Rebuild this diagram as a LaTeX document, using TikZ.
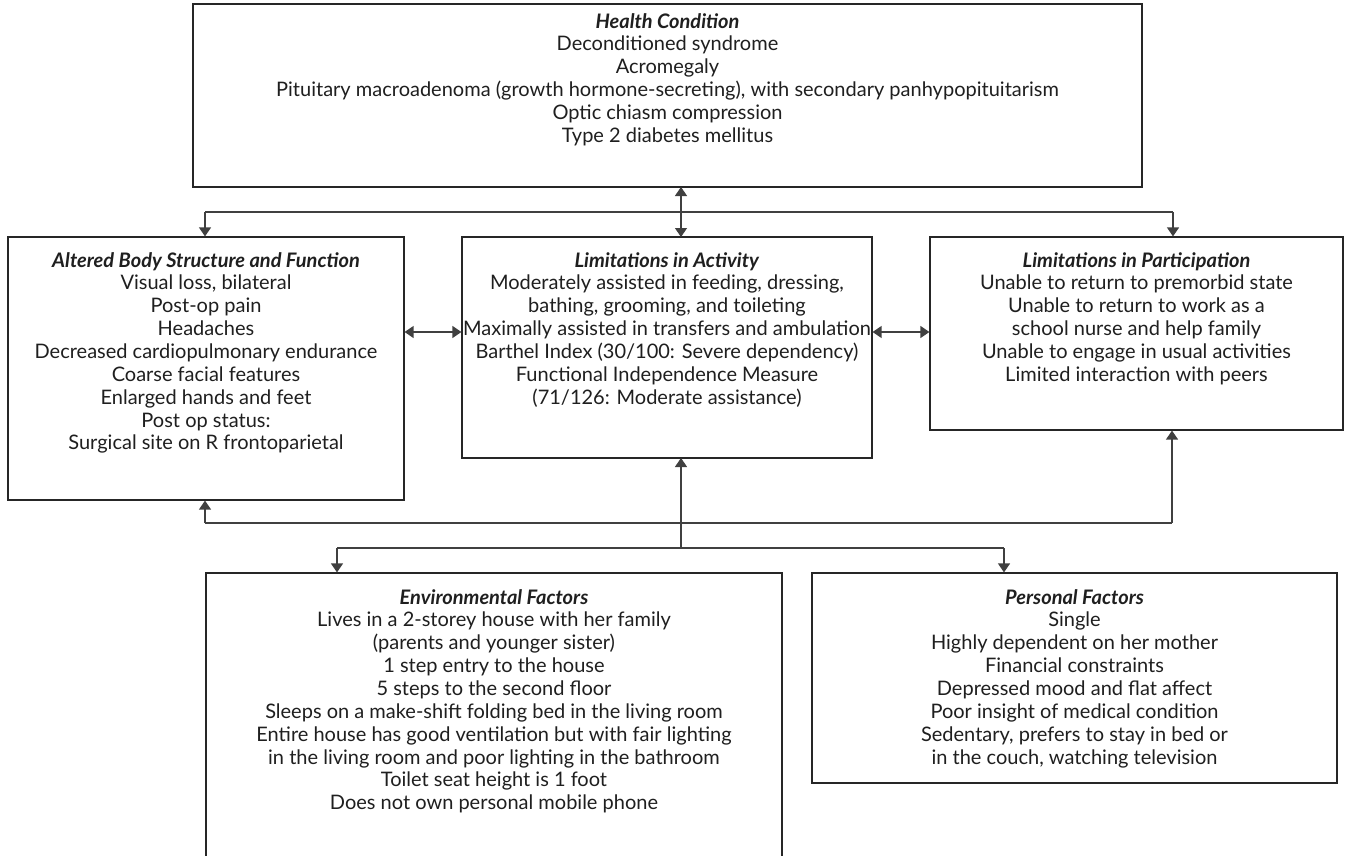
\documentclass[tikz,border=0pt]{standalone}
\usepackage{fontspec}
\setmainfont{Lato}
\usetikzlibrary{arrows.meta,calc}
\begin{document}
\begin{tikzpicture}[x=1pt,y=-1pt,
  box/.style={draw=black!85,line width=1.2pt,inner sep=0pt,fill=white},
  txt/.style={anchor=north,align=center,inner sep=0pt,font=\fontsize{20}{22.85}\selectfont,text=black!88},
  conn/.style={draw=black!75,line width=1.3pt},
  tip/.style={-{Triangle[width=12pt,length=9pt]}},
  both/.style={{Triangle[width=12pt,length=9pt]}-{Triangle[width=12pt,length=9pt]}}]
\useasboundingbox (0,0) rectangle (1351,856);
% boxes
\node[box,minimum width=949pt,minimum height=183pt] (hc) at (667.5,95.5) {};
\node[box,minimum width=396pt,minimum height=263pt] (abs) at (206,368.5) {};
\node[box,minimum width=410pt,minimum height=221pt] (act) at (667,347.5) {};
\node[box,minimum width=413pt,minimum height=193pt] (par) at (1136.5,333.5) {};
\node[box,minimum width=576pt,minimum height=284pt] (env) at (494,715) {};
\node[box,minimum width=525pt,minimum height=210pt] (per) at (1074.5,678) {};
% texts
\node[txt] (hct) at (667.5,13) {\textbf{\textit{Health Condition}}\\Deconditioned syndrome\\Acromegaly\\Pituitary macroadenoma (growth hormone-secreting), with secondary panhypopituitarism\\Optic chiasm compression\\Type 2 diabetes mellitus};
\node[txt] (abst) at (206,252) {\textbf{\textit{Altered Body Structure and Function}}\\Visual loss, bilateral\\Post-op pain\\Headaches\\Decreased cardiopulmonary endurance\\Coarse facial features\\Enlarged hands and feet\\Post op status:\\Surgical site on R frontoparietal};
\node[txt] (actt) at (667,252) {\textbf{\textit{Limitations in Activity}}\\Moderately assisted in feeding, dressing,\\bathing, grooming, and toileting\\Maximally assisted in transfers and ambulation\\Barthel Index (30/100: Severe dependency)\\Functional Independence Measure\\(71/126: Moderate assistance)};
\node[txt] (part) at (1136.5,252) {\textbf{\textit{Limitations in Participation}}\\Unable to return to premorbid state\\Unable to return to work as a\\school nurse and help family\\Unable to engage in usual activities\\Limited interaction with peers};
\node[txt] (envt) at (494,589) {\textbf{\textit{Environmental Factors}}\\Lives in a 2-storey house with her family\\(parents and younger sister)\\1 step entry to the house\\5 steps to the second floor\\Sleeps on a make-shift folding bed in the living room\\Entire house has good ventilation but with fair lighting\\in the living room and poor lighting in the bathroom\\Toilet seat height is 1 foot\\Does not own personal mobile phone};
\node[txt] (pert) at (1074.5,589) {\textbf{\textit{Personal Factors}}\\Single\\Highly dependent on her mother\\Financial constraints\\Depressed mood and flat affect\\Poor insight of medical condition\\Sedentary, prefers to stay in bed or\\in the couch, watching television};
% junction coordinates
\coordinate (tl) at (205,212);
\coordinate (tr) at (1173,212);
\coordinate (hcx) at (681,187);
\coordinate (actn) at (681,237);
\coordinate (acts) at (681,458);
\coordinate (bl) at (205,523);
\coordinate (br) at (1172,523);
\coordinate (bm) at (681,548);
\coordinate (bel) at (337,548);
\coordinate (ber) at (1004,548);
% top connectors
\draw[conn] (tl) -- (tr);
\draw[conn,tip] (tl) -- (tl |- abs.north);
\draw[conn,tip] (tr) -- (tr |- par.north);
\draw[conn,both] (hcx) -- (actn);
% side connectors
\draw[conn,both] (abs.east |- 0,332) -- (act.west |- 0,332);
\draw[conn,both] (act.east |- 0,332) -- (par.west |- 0,332);
% bottom connectors
\draw[conn,tip] (bl) -- (bl |- abs.south);
\draw[conn,tip] (br) -- (br |- par.south);
\draw[conn] (bl) -- (br);
\draw[conn,tip] (bm) -- (acts);
\draw[conn] (bel) -- (ber);
\draw[conn,tip] (bel) -- (bel |- env.north);
\draw[conn,tip] (ber) -- (ber |- per.north);
\end{tikzpicture}
\end{document}
